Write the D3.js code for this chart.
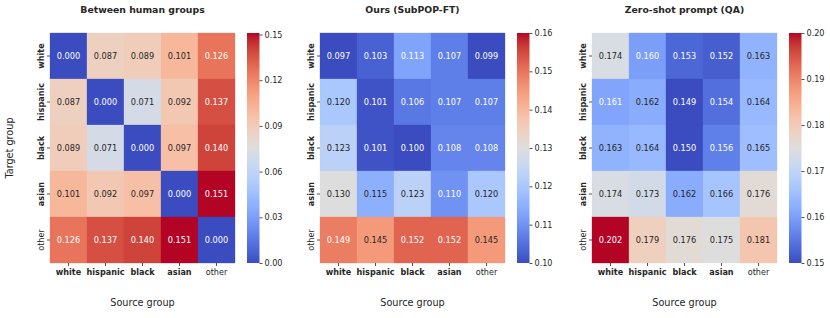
<!DOCTYPE html>
<html>
<head>
<meta charset="utf-8">
<script src="https://cdn.jsdelivr.net/npm/d3@7"></script>
<style>
  body { margin: 0; background: #fff; }
  text { font-family: "DejaVu Sans", sans-serif; fill: #262626; }
</style>
</head>
<body>
<div id="chart"></div>
<script>
// data
var groups = ["white", "hispanic", "black", "asian", "other"];
var boldGroups = ["white", "hispanic", "black", "asian"];

var titles = ["Between human groups", "Ours (SubPOP-FT)", "Zero-shot prompt (QA)"];

var humanVals = [
  [0.000, 0.087, 0.089, 0.101, 0.126],
  [0.087, 0.000, 0.071, 0.092, 0.137],
  [0.089, 0.071, 0.000, 0.097, 0.140],
  [0.101, 0.092, 0.097, 0.000, 0.151],
  [0.126, 0.137, 0.140, 0.151, 0.000]
];
var oursVals = [
  [0.097, 0.103, 0.113, 0.107, 0.099],
  [0.120, 0.101, 0.106, 0.107, 0.107],
  [0.123, 0.101, 0.100, 0.108, 0.108],
  [0.130, 0.115, 0.123, 0.110, 0.120],
  [0.149, 0.145, 0.152, 0.152, 0.145]
];
var zeroVals = [
  [0.174, 0.160, 0.153, 0.152, 0.163],
  [0.161, 0.162, 0.149, 0.154, 0.164],
  [0.163, 0.164, 0.150, 0.156, 0.165],
  [0.174, 0.173, 0.162, 0.166, 0.176],
  [0.202, 0.179, 0.176, 0.175, 0.181]
];

var humanRange = [0, 0.151];
var oursRange = [0.10, 0.16];
var zeroRange = [0.15, 0.20];

var humanTicks = [0.00, 0.03, 0.06, 0.09, 0.12, 0.15];
var oursTicks = [0.10, 0.11, 0.12, 0.13, 0.14, 0.15, 0.16];
var zeroTicks = [0.15, 0.16, 0.17, 0.18, 0.19, 0.20];

// matplotlib coolwarm (Moreland), 33 stops
var coolwarm = [
  [59,76,192],[68,90,204],[77,104,215],[87,117,225],[98,130,234],[108,142,241],
  [119,154,247],[130,165,251],[141,176,254],[152,185,255],[163,194,255],[174,201,253],
  [184,208,249],[194,213,244],[204,217,238],[213,219,230],[221,221,221],[229,216,209],
  [236,211,197],[241,204,185],[245,196,173],[247,187,160],[247,177,148],[247,166,135],
  [244,154,123],[241,141,111],[236,127,99],[229,112,88],[222,96,77],[213,80,66],
  [203,62,56],[192,40,47],[180,4,38]
];
var cwColors = coolwarm.map(c => d3.rgb(c[0], c[1], c[2]).formatHex());
var cw = d3.scaleLinear()
  .domain(d3.range(cwColors.length).map(i => i / (cwColors.length - 1)))
  .range(cwColors)
  .interpolate(d3.interpolateRgb)
  .clamp(true);

// relative luminance, as seaborn uses to pick the annotation colour
function lum(c) {
  var rgb = d3.rgb(c);
  var f = v => { v = v / 255; return v <= 0.03928 ? v / 12.92 : Math.pow((v + 0.055) / 1.055, 2.4); };
  return 0.2126 * f(rgb.r) + 0.7152 * f(rgb.g) + 0.0722 * f(rgb.b);
}

var panels = [
  { title: titles[0], vals: humanVals, range: humanRange, ticks: humanTicks, x0: 50 },
  { title: titles[1], vals: oursVals, range: oursRange, ticks: oursTicks, x0: 320 },
  { title: titles[2], vals: zeroVals, range: zeroRange, ticks: zeroTicks, x0: 592 }
];

var width = 830, height = 318;
var mapTop = 33, mapW = 185, mapH = 230;

var svg = d3.select("#chart").append("svg")
  .attr("width", width)
  .attr("height", height);

var defs = svg.append("defs");
var grad = defs.append("linearGradient")
  .attr("id", "cwgrad")
  .attr("x1", 0).attr("y1", 1).attr("x2", 0).attr("y2", 0);
cwColors.forEach((c, i) => {
  grad.append("stop").attr("offset", i / (cwColors.length - 1)).attr("stop-color", c);
});

panels.forEach(function (p, pi) {
  var g = svg.append("g").attr("transform", "translate(" + p.x0 + "," + mapTop + ")");

  var x = d3.scaleBand().domain(groups).range([0, mapW]);
  var y = d3.scaleBand().domain(groups).range([0, mapH]);
  var norm = d3.scaleLinear().domain(p.range).range([0, 1]);

  var cells = [];
  p.vals.forEach((row, r) => row.forEach((v, c) => cells.push({ row: groups[r], col: groups[c], v: v })));

  g.selectAll("rect.cell")
    .data(cells)
    .enter().append("rect")
    .attr("class", "cell")
    .attr("x", d => x(d.col))
    .attr("y", d => y(d.row))
    .attr("width", x.bandwidth())
    .attr("height", y.bandwidth())
    .attr("fill", d => cw(norm(d.v)))
    .attr("stroke", d => cw(norm(d.v)))
    .attr("stroke-width", 0.3);

  g.selectAll("text.val")
    .data(cells)
    .enter().append("text")
    .attr("class", "val")
    .attr("x", d => x(d.col) + x.bandwidth() / 2)
    .attr("y", d => y(d.row) + y.bandwidth() / 2)
    .attr("text-anchor", "middle")
    .attr("dy", "0.35em")
    .style("font-size", "8.2px")
    .style("fill", d => lum(cw(norm(d.v))) > 0.408 ? "#262626" : "#ffffff")
    .text(d => d.v.toFixed(3));

  // axes
  var xAxis = g.append("g")
    .attr("transform", "translate(0," + mapH + ")")
    .call(d3.axisBottom(x).tickSize(3).tickPadding(3));
  xAxis.select(".domain").remove();
  xAxis.selectAll("line").attr("stroke", "#262626").attr("stroke-width", 0.8);
  xAxis.selectAll("text")
    .style("font-size", "8.1px")
    .style("font-family", "DejaVu Sans")
    .style("font-weight", d => boldGroups.includes(d) ? "bold" : "normal")
    .attr("fill", "#262626");

  var yAxis = g.append("g").call(d3.axisLeft(y).tickSize(3).tickPadding(3));
  yAxis.select(".domain").remove();
  yAxis.selectAll("line").attr("stroke", "#262626").attr("stroke-width", 0.8);
  yAxis.selectAll("text")
    .style("font-size", "8.1px")
    .style("font-family", "DejaVu Sans")
    .style("font-weight", d => boldGroups.includes(d) ? "bold" : "normal")
    .attr("fill", "#262626")
    .attr("text-anchor", "middle")
    .attr("transform", "rotate(-90)")
    .attr("x", 0)
    .attr("y", -6.5)
    .attr("dy", 0);

  // title
  g.append("text")
    .attr("x", mapW / 2)
    .attr("y", -23)
    .attr("text-anchor", "middle")
    .attr("dy", "0.35em")
    .style("font-size", "9.3px")
    .style("font-weight", "bold")
    .text(p.title);

  // x label
  g.append("text")
    .attr("x", mapW / 2)
    .attr("y", 270)
    .attr("text-anchor", "middle")
    .attr("dy", "0.35em")
    .style("font-size", "9.7px")
    .text("Source group");

  if (pi === 0) {
    g.append("text")
      .attr("transform", "translate(-40," + mapH / 2 + ") rotate(-90)")
      .attr("text-anchor", "middle")
      .attr("dy", "0.35em")
      .style("font-size", "9.7px")
      .text("Target group");
  }

  // colorbar
  var cbX = mapW + 12, cbW = 12.5;
  var cb = g.append("g").attr("transform", "translate(" + cbX + ",0)");
  cb.append("rect")
    .attr("width", cbW)
    .attr("height", mapH)
    .attr("fill", "url(#cwgrad)");
  var cy = d3.scaleLinear().domain(p.range).range([mapH, 0]);
  var cAxis = cb.append("g")
    .attr("transform", "translate(" + cbW + ",0)")
    .call(d3.axisRight(cy).tickValues(p.ticks).tickSize(3).tickPadding(2).tickFormat(d3.format(".2f")));
  cAxis.select(".domain").remove();
  cAxis.selectAll("line").attr("stroke", "#262626").attr("stroke-width", 0.8);
  cAxis.selectAll("text")
    .style("font-size", "8.1px")
    .style("font-family", "DejaVu Sans")
    .attr("fill", "#262626");
});
</script>
</body>
</html>
